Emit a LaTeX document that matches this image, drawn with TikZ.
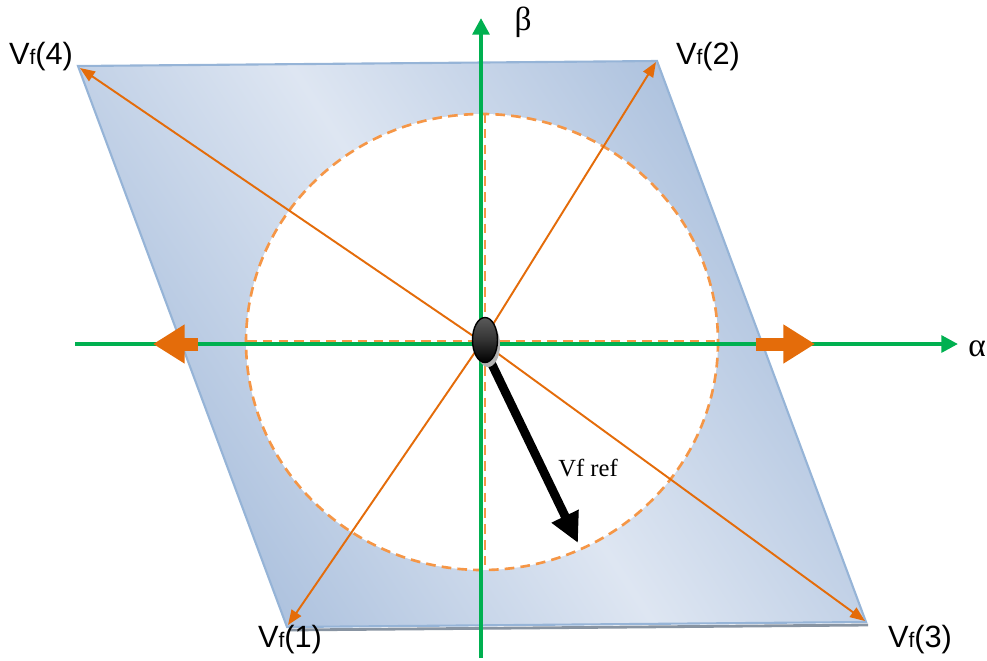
\documentclass[tikz,border=0pt]{standalone}
\usepackage{fontspec}
\setmainfont{Liberation Serif}
\newfontfamily\vecfont{Liberation Sans}
\usetikzlibrary{arrows.meta,shapes.geometric}

\definecolor{axisgreen}{RGB}{0,176,80}
\definecolor{vecorange}{RGB}{228,108,10}
\definecolor{dashorange}{RGB}{245,150,70}
\definecolor{plateedge}{RGB}{150,180,215}
\definecolor{platelight}{RGB}{222,230,242}
\definecolor{platedark}{RGB}{168,190,220}

\begin{document}
\begin{tikzpicture}[x=0.02cm,y=-0.02cm,
    axis/.style={draw=axisgreen,line width=2.3pt,-{Triangle[length=9.5pt,width=9.5pt]}},
    vec/.style={draw=vecorange,line width=1.1pt,-{Triangle[length=8.5pt,width=6.5pt]}},
    push/.style={draw=vecorange,line width=7.4pt,-{Triangle[length=18pt,width=21pt]}},
    ring/.style={draw=dashorange,line width=1.5pt,dash pattern=on 5.5pt off 3.5pt},
    vlabel/.style={font=\vecfont\fontsize{17.5}{20}\selectfont,inner sep=0pt},
    glabel/.style={font=\fontsize{19}{20}\selectfont,inner sep=0pt},
    hub/.style={ellipse,draw=black,line width=0.8pt,minimum width=0.5cm,minimum height=0.9cm,
        inner sep=0pt,top color=gray!70!black,bottom color=black,middle color=gray!40!black}]
    \useasboundingbox (0,0) rectangle (987,660);
    % corners of the plate
    \coordinate (P1) at (287,627);
    \coordinate (P2) at (657,61);
    \coordinate (P3) at (866,622);
    \coordinate (P4) at (78,66);
    \coordinate (O) at (482,342);
    % plate and circle
    \draw[gray!60!plateedge,line width=1.6pt] (289,630) -- (868,625);
    \draw[plateedge,line width=1.2pt,left color=platedark,right color=platedark,middle color=platelight,
        shading angle=-57] (P4) -- (P2) -- (P3) -- (P1) -- cycle;
    \draw[ring,fill=white] (O) ellipse [x radius=236,y radius=228];
    \draw[ring] (247,341) -- (720,341);
    \draw[ring] (485,113) -- (485,568);
    % axes
    \coordinate (aW) at (75,344);
    \coordinate (aE) at (958,344);
    \coordinate (bS) at (481,658);
    \coordinate (bN) at (481,18);
    \draw[axis] (aW) -- (aE);
    \draw[axis] (bS) -- (bN);
    \node[glabel] (alpha) at (977,349) {α};
    \node[glabel] (beta) at (523,22) {β};
    % voltage vectors
    \draw[vec] (O) -- (80,68);
    \draw[vec] (O) -- (656,62);
    \draw[vec] (O) -- (865,621);
    \draw[vec] (O) -- (288,625);
    \node[vlabel] (v4) at (41,57) {V{\fontsize{12}{12}\selectfont f}(4)};
    \node[vlabel] (v2) at (708,57) {V{\fontsize{12}{12}\selectfont f}(2)};
    \node[vlabel] (v1) at (290,640) {V{\fontsize{12}{12}\selectfont f}(1)};
    \node[vlabel] (v3) at (920,640) {V{\fontsize{12}{12}\selectfont f}(3)};
    % thrust arrows
    \coordinate (tW) at (198,344);
    \coordinate (tWh) at (153,344);
    \coordinate (tE) at (756,344);
    \coordinate (tEh) at (815,344);
    \draw[push] (tW) -- (tWh);
    \draw[push] (tE) -- (tEh);
    % reference vector
    \coordinate (ref) at (578,543);
    \draw[line width=5pt,-{Triangle[length=17pt,width=16pt]}] (486,352) -- (ref);
    \node[font=\fontsize{14}{16}\selectfont,inner sep=0pt] (reflabel) at (588,468) {Vf ref};
    % centre
    \fill[gray!60] (488,345) ellipse [x radius=12,y radius=22];
    \node[hub] (hub) at (485,340) {};
\end{tikzpicture}
\end{document}
